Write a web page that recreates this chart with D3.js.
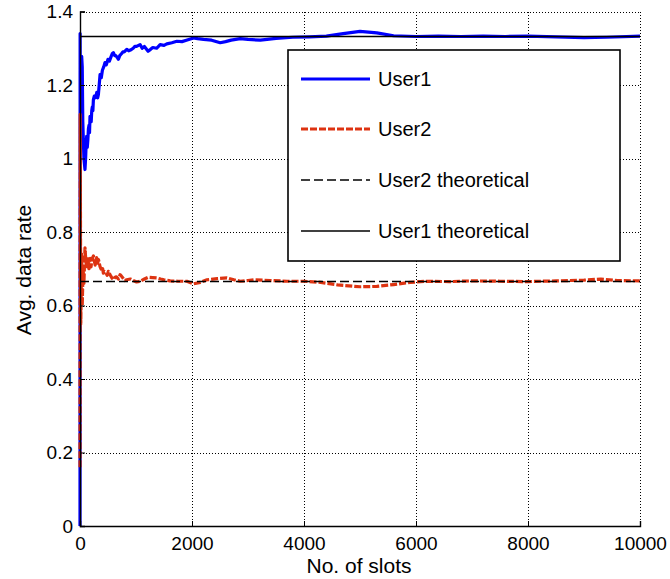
<!DOCTYPE html>
<html><head><meta charset="utf-8">
<script src="https://cdn.jsdelivr.net/npm/d3@7"></script>
<style>body{margin:0;background:#fff}svg{display:block}text{font-family:"Liberation Sans",Arial,sans-serif;fill:#000}</style>
</head><body><svg id="c" width="670" height="579"></svg>
<script>
const xTicks = [0, 2000, 4000, 6000, 8000, 10000];
const yTicks = [0, 0.2, 0.4, 0.6, 0.8, 1, 1.2, 1.4];
const seriesNames = ["User1", "User2", "User2 theoretical", "User1 theoretical"];
const user1Theory = 1.3333;
const user2Theory = 0.6667;

const user1Slots = [0,2,6,12,20,30,40,50,70,89,100,110,119,130,140,150,160,170,179,190,200,210,220,230,239,255,270,285,300,315,328,343,358,380,400,425,447,470,500,525,550,575,596,620,640,665,686,710,740,765,790,835,870,900,950,980,1010,1073,1110,1150,1216,1260,1300,1370,1431,1500,1550,1640,1730,1820,1900,2027,2100,2206,2350,2504,2600,2700,2862,3000,3220,3500,3800,4100,4400,4700,5000,5300,5600,6000,6400,6800,7200,7600,8000,8500,9000,9400,10000];
const user1Vals  = [0,1.34,1.15,1.05,1.20,1.278,1.25,1.10,1.00,0.97,1.00,1.04,1.06,1.03,1.05,1.08,1.09,1.07,1.115,1.10,1.10,1.13,1.14,1.13,1.16,1.17,1.165,1.17,1.18,1.165,1.174,1.20,1.228,1.22,1.24,1.25,1.261,1.255,1.27,1.265,1.275,1.285,1.288,1.28,1.28,1.275,1.27,1.28,1.285,1.29,1.29,1.297,1.293,1.295,1.30,1.305,1.305,1.31,1.30,1.305,1.292,1.297,1.302,1.30,1.31,1.308,1.312,1.315,1.319,1.318,1.322,1.328,1.326,1.324,1.322,1.315,1.318,1.322,1.326,1.324,1.322,1.327,1.330,1.331,1.333,1.340,1.346,1.342,1.334,1.332,1.333,1.332,1.333,1.332,1.333,1.331,1.329,1.330,1.333];

const user2Slots = [0,3,8,14,20,30,40,55,70,89,105,119,135,150,160,172,185,197,209,225,240,255,270,285,298,315,330,345,358,375,390,405,417,440,460,485,506,530,550,575,596,620,650,685,716,740,770,800,835,900,950,1010,1073,1150,1222,1300,1372,1440,1500,1610,1750,1909,2027,2150,2267,2450,2624,2750,2862,3000,3100,3400,3700,4000,4300,4600,5000,5300,5600,5900,6200,6600,7000,7500,8000,8500,9000,9300,9600,10000];
const user2Vals  = [0.16,1.12,0.85,0.55,0.62,0.74,0.60,0.70,0.66,0.757,0.72,0.706,0.734,0.715,0.70,0.72,0.728,0.705,0.72,0.73,0.735,0.722,0.71,0.725,0.73,0.715,0.725,0.715,0.706,0.70,0.695,0.70,0.688,0.692,0.69,0.682,0.693,0.686,0.68,0.674,0.67,0.676,0.678,0.672,0.684,0.68,0.674,0.668,0.67,0.672,0.668,0.664,0.666,0.672,0.677,0.676,0.675,0.672,0.670,0.667,0.666,0.666,0.659,0.663,0.670,0.673,0.675,0.670,0.666,0.668,0.670,0.668,0.666,0.666,0.663,0.656,0.651,0.652,0.657,0.663,0.666,0.665,0.667,0.666,0.665,0.667,0.669,0.672,0.668,0.667];

const L = 80, R = 640, T = 11.5, B = 526;
const svg = d3.select("#c");
const x = d3.scaleLinear().domain([0, 10000]).range([L, R]);
const y = d3.scaleLinear().domain([0, 1.4]).range([B, T]);
const px = v => Math.round(v) + 0.5;

// grid
const g = svg.append("g").attr("shape-rendering", "crispEdges");
g.selectAll(".gx").data(xTicks.slice(1)).join("line")
  .attr("x1", d => px(x(d))).attr("x2", d => px(x(d))).attr("y1", B).attr("y2", T)
  .attr("stroke", "#000").attr("stroke-width", 1).attr("stroke-dasharray", "1,2");
g.selectAll(".gy").data(yTicks.slice(1)).join("line")
  .attr("x1", L).attr("x2", R).attr("y1", d => px(y(d))).attr("y2", d => px(y(d)))
  .attr("stroke", "#000").attr("stroke-width", 1).attr("stroke-dasharray", "1,2");

// data
const line = d3.line().x(d => x(d[0])).y(d => y(d[1]));
const d1 = user1Slots.map((s, i) => [s, user1Vals[i]]);
const d2 = user2Slots.map((s, i) => [s, user2Vals[i]]);
svg.append("path").attr("d", line(d1)).attr("fill", "none").attr("stroke", "#0000ff").attr("stroke-width", 3.2).attr("stroke-linejoin", "round");
svg.append("path").attr("d", line(d2)).attr("fill", "none").attr("stroke", "#dd3311").attr("stroke-width", 3.2).attr("stroke-dasharray", "7,2").attr("stroke-linejoin", "round");
svg.append("line").attr("x1", L).attr("x2", R).attr("y1", px(y(user2Theory))).attr("y2", px(y(user2Theory)))
  .attr("stroke", "#000").attr("stroke-width", 1.4).attr("stroke-dasharray", "9,4");
svg.append("line").attr("x1", L).attr("x2", R).attr("y1", px(y(user1Theory))).attr("y2", px(y(user1Theory)))
  .attr("stroke", "#000").attr("stroke-width", 1.6);

// axes
const xAxis = d3.axisBottom(x).tickValues(xTicks).tickSize(-5).tickPadding(14).tickFormat(d3.format("d"));
const yAxis = d3.axisLeft(y).tickValues(yTicks).tickSize(-5).tickPadding(7).tickFormat(d => d3.format("")(d));
const gx = svg.append("g").attr("transform", `translate(0,${B})`).call(xAxis);
const gy = svg.append("g").attr("transform", `translate(${L},0)`).call(yAxis);
[gx, gy].forEach(a => {
  a.select(".domain").attr("stroke", "#000").attr("stroke-width", 1.4);
  a.selectAll("text").style("font-size", "19px").attr("fill", "#000");
  a.selectAll(".tick line").attr("stroke", "#000");
});
gx.selectAll("text").attr("dy", "0.55em");
// dotted top & right border
svg.append("line").attr("x1", L).attr("x2", R).attr("y1", px(T)).attr("y2", px(T)).attr("stroke", "#000").attr("stroke-dasharray", "1,2").attr("shape-rendering", "crispEdges");
svg.append("line").attr("x1", px(R)).attr("x2", px(R)).attr("y1", T).attr("y2", B).attr("stroke", "#000").attr("stroke-dasharray", "1,2").attr("shape-rendering", "crispEdges");

// labels
svg.append("text").attr("x", 359).attr("y", 573).attr("text-anchor", "middle").style("font-size", "21px").text("No. of slots");
svg.append("text").attr("transform", "translate(31,270) rotate(-90)").attr("text-anchor", "middle").style("font-size", "21px").text("Avg. data rate");

// legend
const leg = svg.append("g");
leg.append("rect").attr("x", 288).attr("y", 50).attr("width", 332).attr("height", 211).attr("fill", "#fff").attr("stroke", "#000").attr("stroke-width", 1.6);
const legY = [79, 129, 180, 231];
const legStyle = [
  {c: "#0000ff", w: 3, da: null},
  {c: "#dd3311", w: 3, da: "7,2"},
  {c: "#000", w: 1.4, da: "9,4"},
  {c: "#000", w: 1.4, da: null}
];
seriesNames.forEach((n, i) => {
  leg.append("line").attr("x1", 301).attr("x2", 370).attr("y1", legY[i]).attr("y2", legY[i])
    .attr("stroke", legStyle[i].c).attr("stroke-width", legStyle[i].w).attr("stroke-dasharray", legStyle[i].da);
  leg.append("text").attr("x", 378).attr("y", legY[i] + 7).style("font-size", "20px").text(n);
});
</script></body></html>
